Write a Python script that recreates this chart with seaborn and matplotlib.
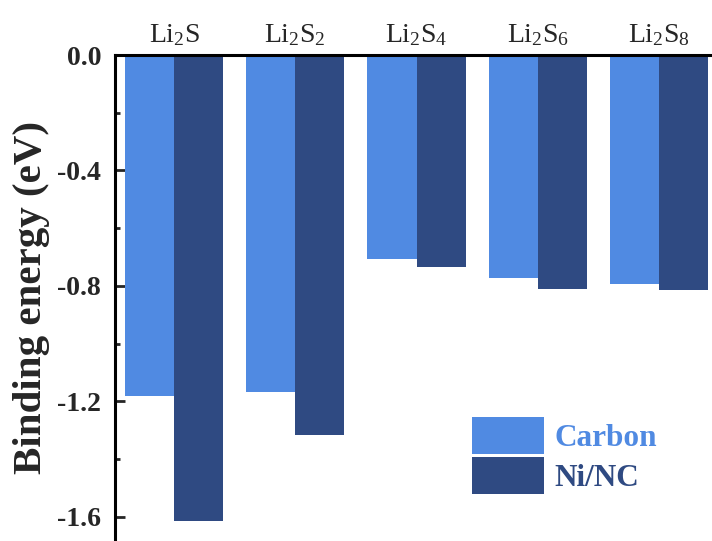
import matplotlib
matplotlib.use("Agg")
import matplotlib.pyplot as plt
from matplotlib.patches import Patch
from matplotlib.ticker import MultipleLocator
import seaborn as sns
import pandas as pd

# Binding energies (eV) of lithium polysulfides on the two hosts
species = [r"Li$_2$S", r"Li$_2$S$_2$", r"Li$_2$S$_4$", r"Li$_2$S$_6$", r"Li$_2$S$_8$"]
carbon = [-1.18, -1.167, -0.708, -0.773, -0.793]
ni_nc = [-1.615, -1.318, -0.733, -0.811, -0.813]
hosts = ["Carbon", "Ni/NC"]
colors = ["#508AE2", "#2F4A82"]
y_ticks = [0.0, -0.4, -0.8, -1.2, -1.6]

df = pd.DataFrame({
    "species": species * 2,
    "energy": carbon + ni_nc,
    "host": [hosts[0]] * len(species) + [hosts[1]] * len(species),
})

sns.set_style("white")
plt.rcParams["font.family"] = ["Liberation Serif", "DejaVu Serif"]
plt.rcParams["mathtext.fontset"] = "custom"
plt.rcParams["mathtext.rm"] = "Liberation Serif"
plt.rcParams["mathtext.it"] = "Liberation Serif:italic"
plt.rcParams["mathtext.bf"] = "Liberation Serif:bold"
plt.rcParams["mathtext.default"] = "regular"

fig = plt.figure(figsize=(7.12, 5.41), dpi=100)
ax = fig.add_axes([115 / 712, 0.0, 1 - 115 / 712, 1 - 55 / 541])

sns.barplot(data=df, x="species", y="energy", hue="host", order=species,
            hue_order=hosts, palette=colors, saturation=1, width=0.81,
            gap=0, linewidth=0, legend=False, ax=ax)

ax.set_ylim(-1.684, 0)
ax.set_xlim(-0.487, 4.437)

# y axis: bold ticks pointing inward, minor ticks halfway
ax.set_yticks(y_ticks)
ax.set_yticklabels([f"{v:.1f}" for v in y_ticks], fontweight="bold", fontsize=20)
ax.yaxis.set_minor_locator(MultipleLocator(0.2))
ax.tick_params(axis="y", which="major", direction="in", length=7, width=2,
               pad=10, left=True)
ax.tick_params(axis="y", which="minor", direction="in", length=3.5, width=2,
               left=True)
ax.set_ylabel("Binding energy (eV)", fontsize=29.5, fontweight="bold", labelpad=5)

# category labels along the top spine
ax.xaxis.tick_top()
ax.set_xlabel("")
ax.tick_params(axis="x", length=0, pad=5, labelsize=20, top=True, bottom=False)

for side in ["right", "bottom"]:
    ax.spines[side].set_visible(False)
for side in ["left", "top"]:
    ax.spines[side].set_visible(True)
    ax.spines[side].set_linewidth(2.2)
    ax.spines[side].set_color("black")

handles = [Patch(facecolor=c, edgecolor="none", label=h) for h, c in zip(hosts, colors)]
fig.legend(handles=handles, loc="upper left", bbox_to_anchor=(472 / 712, 1 - 417 / 541),
           frameon=False, prop={"family": "Liberation Serif", "weight": "bold", "size": 22.5},
           labelcolor=colors, handlelength=2.3, handleheight=1.45,
           handletextpad=0.35, labelspacing=0.1, borderpad=0, borderaxespad=0)

fig.savefig("out.png", dpi=100)
